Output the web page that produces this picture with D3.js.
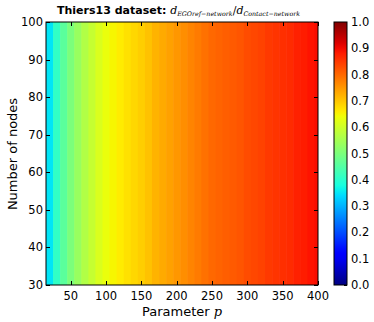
<!DOCTYPE html>
<html><head><meta charset="utf-8">
<script src="https://cdn.jsdelivr.net/npm/d3@7"></script>
<style>body{margin:0;background:#fff}svg{display:block}text{font-family:"DejaVu Sans",sans-serif}</style>
</head><body><svg id="c" width="374" height="322"></svg>
<script>
// p cell starts (width 10, first cell from 15)
const pStarts = [15,25,35,45,55,65,75,85,95,105,115,125,135,145,155,165,175,185,195,205,215,225,235,245,255,265,275,285,295,305,315,325,335,345,355,365,375,385,395];
const ratio   = [0.35,0.41,0.46,0.50,0.535,0.565,0.59,0.615,0.635,0.65,0.66,0.672,0.682,0.692,0.705,0.72,0.73,0.74,0.75,0.76,0.77,0.78,0.79,0.80,0.805,0.81,0.815,0.82,0.83,0.835,0.84,0.85,0.855,0.86,0.865,0.875,0.88,0.89,0.895];
const nodes = [30,100];
const xTicks = [50,100,150,200,250,300,350,400];
const yTicks = [30,40,50,60,70,80,90,100];
const cTicks = [0,0.1,0.2,0.3,0.4,0.5,0.6,0.7,0.8,0.9,1.0];

function seg(pts, v){
  for(let i=0;i<pts.length-1;i++){
    const [x0,y0]=pts[i],[x1,y1]=pts[i+1];
    if(v<=x1){return y0+(y1-y0)*(v-x0)/(x1-x0);}
  }
  return pts[pts.length-1][1];
}
function jet(v){
  v=Math.max(0,Math.min(1,v));
  const r=seg([[0,0],[0.35,0],[0.66,1],[0.89,1],[1,0.5]],v);
  const g=seg([[0,0],[0.125,0],[0.375,1],[0.64,1],[0.91,0],[1,0]],v);
  const b=seg([[0,0.5],[0.11,1],[0.34,1],[0.65,0],[1,0]],v);
  return d3.rgb(r*255,g*255,b*255)+"";
}

const svg=d3.select("#c");
const L=46,R=318,T=22,B=285;
const x=d3.scaleLinear().domain([15,400]).range([L,R]);
const y=d3.scaleLinear().domain([30,100]).range([B,T]);

svg.append("defs").append("clipPath").attr("id","cp").append("rect")
  .attr("x",L).attr("y",T).attr("width",R-L).attr("height",B-T);
const g=svg.append("g").attr("clip-path","url(#cp)");
g.selectAll("rect").data(pStarts).join("rect")
  .attr("x",d=>x(d)).attr("y",y(nodes[1]))
  .attr("width",d=>x(d+10)-x(d)+0.6).attr("height",y(nodes[0])-y(nodes[1]))
  .attr("fill",(d,i)=>jet(ratio[i]));

svg.append("rect").attr("x",L).attr("y",T).attr("width",R-L).attr("height",B-T)
  .attr("fill","none").attr("stroke","#000").attr("stroke-width",1);

// ticks inward
const tk=svg.append("g").attr("stroke","#000").attr("stroke-width",1);
xTicks.forEach(t=>{const X=Math.round(x(t))+0.5;
  tk.append("line").attr("x1",X).attr("x2",X).attr("y1",B).attr("y2",B-4);
  tk.append("line").attr("x1",X).attr("x2",X).attr("y1",T).attr("y2",T+4);});
yTicks.forEach(t=>{const Y=Math.round(y(t))+0.5;
  tk.append("line").attr("x1",L).attr("x2",L+4).attr("y1",Y).attr("y2",Y);
  tk.append("line").attr("x1",R).attr("x2",R-4).attr("y1",Y).attr("y2",Y);});

svg.append("g").selectAll("text").data(xTicks).join("text")
  .attr("x",d=>x(d)).attr("y",300).attr("text-anchor","middle")
  .attr("font-size",11.5).attr("fill","#000").text(d=>d);
svg.append("g").selectAll("text").data(yTicks).join("text")
  .attr("x",43).attr("y",d=>y(d)+4).attr("text-anchor","end")
  .attr("font-size",11.5).attr("fill","#000").text(d=>d);

svg.append("text").attr("x",182).attr("y",316).attr("text-anchor","middle").attr("font-size",13)
  .html('Parameter <tspan font-family="DejaVu Serif" font-style="italic">p</tspan>');
svg.append("text").attr("transform","translate(17,154) rotate(-90)").attr("text-anchor","middle")
  .attr("font-size",13).text("Number of nodes");

// title
const tt=svg.append("text").attr("x",57).attr("y",14).attr("font-size",11);
tt.append("tspan").attr("font-weight","bold").text("Thiers13 dataset: ");
const mf='"DejaVu Serif",serif';
tt.append("tspan").attr("font-family",mf).attr("font-weight","normal").attr("font-style","italic").attr("font-size",11).text("d");
tt.append("tspan").attr("font-family",mf).attr("font-weight","normal").attr("font-style","italic").attr("font-size",6.3).attr("dy",2).text("EGOref\u2212network");
tt.append("tspan").attr("font-family",mf).attr("font-weight","normal").attr("font-size",11).attr("dy",-2).text("/");
tt.append("tspan").attr("font-family",mf).attr("font-weight","normal").attr("font-style","italic").attr("font-size",11).text("d");
tt.append("tspan").attr("font-family",mf).attr("font-weight","normal").attr("font-style","italic").attr("font-size",6.3).attr("dy",2).text("Contact\u2212network");

// colorbar
const CL=334,CR=347;
const cy=d3.scaleLinear().domain([0,1]).range([B,T]);
const grad=svg.select("defs").append("linearGradient").attr("id","jg").attr("x1",0).attr("y1",1).attr("x2",0).attr("y2",0);
d3.range(0,1.0001,0.02).forEach(v=>grad.append("stop").attr("offset",v).attr("stop-color",jet(v)));
svg.append("rect").attr("x",CL).attr("y",T).attr("width",CR-CL).attr("height",B-T).attr("fill","url(#jg)")
  .attr("stroke","#000").attr("stroke-width",1);
cTicks.forEach(t=>{const Y=Math.round(cy(t))+0.5;
  tk.append("line").attr("x1",CR).attr("x2",CR-3).attr("y1",Y).attr("y2",Y);});
svg.append("g").selectAll("text").data(cTicks).join("text")
  .attr("x",351).attr("y",d=>cy(d)+4).attr("font-size",11.5).text(d=>d.toFixed(1));
</script></body></html>
